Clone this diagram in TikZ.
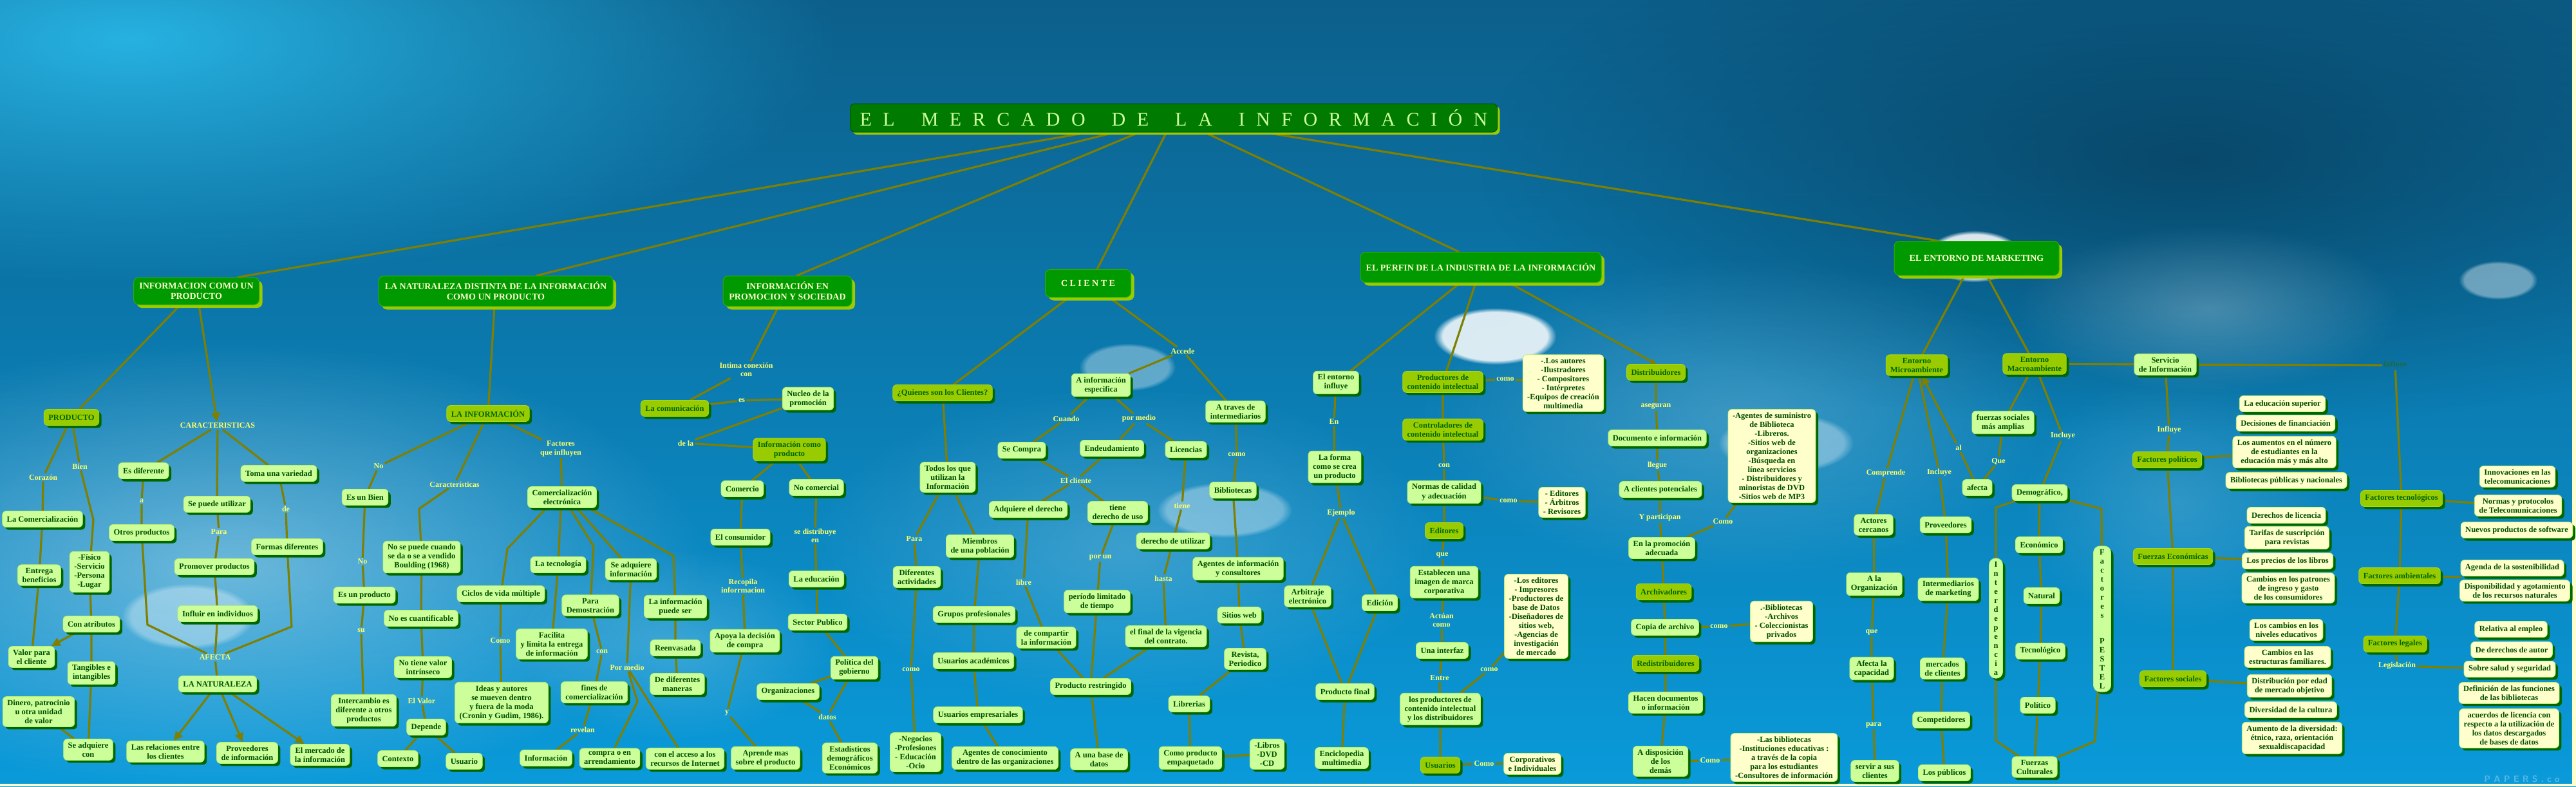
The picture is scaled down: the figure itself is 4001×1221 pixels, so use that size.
\documentclass[tikz,border=0pt]{standalone}
\usepackage{fontspec}
\setmainfont{Liberation Serif}
\usetikzlibrary{arrows.meta,shadows,fadings,calc}
\tikzfading[name=softfade, inner color=transparent!0, outer color=transparent!100]
\pgfdeclarelayer{bgl}
\pgfdeclarelayer{lnl}
\pgfsetlayers{bgl,lnl,main}
\definecolor{bgtop}{HTML}{0C5F8A}
\definecolor{bgmid}{HTML}{2A80A8}
\definecolor{bgbot}{HTML}{0A9ADA}
\definecolor{brightc}{HTML}{2BC0F0}
\definecolor{darkc}{HTML}{06324C}
\definecolor{leafc}{HTML}{CCFF99}
\definecolor{leafbd}{HTML}{B8F070}
\definecolor{midc}{HTML}{99CC00}
\definecolor{midbd}{HTML}{A8D820}
\definecolor{topc}{HTML}{009900}
\definecolor{topbd}{HTML}{33AA00}
\definecolor{toptxt}{HTML}{FFFFCC}
\definecolor{titlec}{HTML}{007A00}
\definecolor{titlebd}{HTML}{005500}
\definecolor{titletxt}{HTML}{CCFF99}
\definecolor{ylwc}{HTML}{FFFFCC}
\definecolor{dkg}{HTML}{006600}
\definecolor{txtg}{HTML}{004D00}
\definecolor{lblc}{HTML}{FFFF66}
\definecolor{olv}{HTML}{7F7F00}
\definecolor{dklbl}{HTML}{1E6B3A}
\definecolor{edgec}{HTML}{FFFFCC}
\newcommand{\tgap}{\hspace{17.5pt}}
\newcommand{\tgapw}{\hspace{41pt}}
\begin{document}
\begin{tikzpicture}[x=1pt,y=-1pt,
  base/.style={rounded corners=6pt, align=center, font=\fontsize{12.5}{14}\selectfont\bfseries, inner xsep=7pt, inner ysep=5pt, minimum height=25pt},
  leaf/.style={base, fill=leafc, draw=leafbd, line width=0.8pt, text=txtg, drop shadow={shadow xshift=4pt, shadow yshift=-4pt, fill=dkg, opacity=1}},
  midbox/.style={base, fill=midc, draw=midbd, line width=0.8pt, text=dkg, drop shadow={shadow xshift=4pt, shadow yshift=-4pt, fill=dkg, opacity=1}},
  ybox/.style={base, fill=ylwc, draw=leafbd, line width=0.8pt, text=txtg, drop shadow={shadow xshift=4pt, shadow yshift=-4pt, fill=dkg, opacity=1}},
  topbox/.style={base, rounded corners=8pt, font=\fontsize{14}{16}\selectfont\bfseries, fill=topc, draw=topbd, line width=1pt, text=toptxt, drop shadow={shadow xshift=5pt, shadow yshift=-5pt, fill=midc, opacity=1}},
  lbl/.style={align=center, font=\fontsize{12}{13.5}\selectfont\bfseries, text=lblc, inner sep=2pt},
  conn/.style={draw=olv, line width=3.2pt},
  arr/.style={conn, -{Triangle[length=14pt,width=13pt]}},
  arrS/.style={conn, -{Triangle[length=8pt,width=9pt]}},
  moon/.style={fill=white, path fading=circle with fuzzy edge 15 percent},
  haze/.style={path fading=softfade}
]
\useasboundingbox (0,0) rectangle (4001,1221);
% ---------------- background ----------------
\begin{pgfonlayer}{bgl}
\shade[top color=bgtop, middle color=bgmid, bottom color=bgbot] (0,0) rectangle (4001,1221);
\fill[brightc, haze, opacity=0.85] (200,60) ellipse [x radius=1100, y radius=380];
\fill[darkc, haze, opacity=0.6] (3400,250) ellipse [x radius=1100, y radius=420];
\fill[white, haze, opacity=0.4] (350,880) ellipse [x radius=750, y radius=350];
\fill[white, haze, opacity=0.2] (1750,850) ellipse [x radius=500, y radius=250];
\fill[white, haze, opacity=0.2] (1050,1000) ellipse [x radius=250, y radius=150];
\fill[white, haze, opacity=0.2] (2700,650) ellipse [x radius=500, y radius=250];
\fill[white, haze, opacity=0.25] (3430,480) ellipse [x radius=300, y radius=130];
\fill[white, haze, opacity=0.15] (3380,780) ellipse [x radius=250, y radius=200];
\fill[moon, opacity=0.35] (1751,570) ellipse [x radius=75, y radius=37];
\fill[moon, opacity=0.35] (1902,792) ellipse [x radius=105, y radius=43];
\fill[moon, opacity=0.85] (2322,522) ellipse [x radius=95, y radius=44];
\fill[moon, opacity=0.35] (292,957) ellipse [x radius=103, y radius=51];
\fill[moon, opacity=0.35] (2774,688) ellipse [x radius=105, y radius=46];
\fill[moon, opacity=0.4] (3880,435) ellipse [x radius=61, y radius=30];
\fill[moon, opacity=0.85] (3066,398) ellipse [x radius=75, y radius=40];
\fill[edgec] (0,1217) rectangle (4001,1221);
\fill[edgec] (3995,0) rectangle (4001,1221);
\node[text=white, opacity=0.3, font=\sffamily\bfseries\fontsize{14}{14}\selectfont] (wm) at (3917,1210) {P A P E R S . c o};
\end{pgfonlayer}

% ---------------- top level ----------------
\node[base, rounded corners=7pt, fill=titlec, draw=titlebd, line width=1pt, minimum width=1005pt, minimum height=44pt, font=\fontsize{30}{32}\selectfont, text=titletxt, drop shadow={shadow xshift=4pt, shadow yshift=-4pt, fill=midc, opacity=1}] (title) at (1823,183)
 {E\tgap L\tgapw M\tgap E\tgap R\tgap C\tgap A\tgap D\tgap O\tgapw D\tgap E\tgapw L\tgap A\tgapw I\tgap N\tgap F\tgap O\tgap R\tgap M\tgap A\tgap C\tgap I\tgap Ó\tgap N};
\node[topbox, minimum width=195pt, minimum height=42pt] (infoprod) at (305,452) {INFORMACION COMO UN\\PRODUCTO};
\node[topbox, minimum width=364pt, minimum height=47pt] (natur) at (770,452) {LA NATURALEZA DISTINTA DE LA INFORMACIÓN\\COMO UN PRODUCTO};
\node[topbox, minimum width=200pt, minimum height=47pt] (promo) at (1223,452) {INFORMACIÓN EN\\PROMOCION Y SOCIEDAD};
\node[topbox, minimum width=133pt, minimum height=43pt] (cliente) at (1690,440) {C L I E N T E};
\node[topbox, minimum width=374pt, minimum height=47pt] (perfin) at (2300,415) {EL PERFIN DE LA INDUSTRIA DE LA INFORMACIÓN};
\node[topbox, minimum width=256pt, minimum height=53pt] (entorno) at (3070,401) {EL ENTORNO DE MARKETING};

% ---------------- region 1 ----------------
\node[midbox] (producto) at (111,648) {PRODUCTO};
\node[lbl] (caract) at (338,661) {CARACTERISTICAS};
\node[lbl] (corazon) at (67,741) {Corazón};
\node[lbl] (bien) at (124,724) {Bien};
\node[leaf] (esdif) at (223,731) {Es diferente};
\node[leaf] (sepuede) at (337,783) {Se puede utilizar};
\node[leaf] (toma) at (433,735) {Toma una variedad};
\node[leaf] (lacomerc) at (66,806) {La Comercialización};
\node[lbl] (lbla) at (220,778) {a};
\node[lbl] (lblpara) at (340,826) {Para};
\node[lbl] (lblde) at (444,790) {de};
\node[leaf] (otros) at (220,827) {Otros productos};
\node[leaf] (formas) at (446,849) {Formas diferentes};
\node[leaf] (entrega) at (61,893) {Entrega\\beneficios};
\node[leaf] (fisico) at (139,888) {-Físico\\-Servicio\\-Persona\\-Lugar};
\node[leaf] (promover) at (333,880) {Promover productos};
\node[leaf] (influir) at (338,953) {Influir en individuos};
\node[leaf] (conatrib) at (142,969) {Con atributos};
\node[leaf] (valor) at (49,1020) {Valor para\\el cliente};
\node[leaf] (tangibles) at (142,1045) {Tangibles e\\intangibles};
\node[lbl] (afectalbl) at (334,1021) {AFECTA};
\node[leaf] (lanat) at (338,1062) {LA NATURALEZA};
\node[leaf] (dinero) at (60,1105) {Dinero, patrocinio\\u otra unidad\\de valor};
\node[leaf] (seadq) at (137,1164) {Se adquiere\\con};
\node[leaf] (relac) at (257,1167) {Las relaciones entre\\los clientes};
\node[leaf] (proveed) at (384,1169) {Proveedores\\de información};
\node[leaf] (mercado) at (497,1172) {El mercado de\\la información};

% ---------------- region 2 ----------------
\node[midbox] (lainfo) at (758,642) {LA INFORMACIÓN};
\node[lbl] (no1) at (588,724) {No};
\node[lbl] (carac2) at (706,752) {Características};
\node[lbl] (factinf) at (871,697) {Factores\\que influyen};
\node[leaf] (esbien) at (567,772) {Es un Bien};
\node[lbl] (no2) at (563,872) {No};
\node[leaf] (esprod) at (566,924) {Es un producto};
\node[lbl] (su) at (561,979) {su};
\node[leaf] (intercambio) at (565,1103) {Intercambio es\\diferente a otros\\productos};
\node[leaf] (nosepuede) at (655,865) {No se puede cuando\\se da o se a vendido\\Boulding (1968)};
\node[leaf] (nocuant) at (654,960) {No es cuantificable};
\node[leaf] (notiene) at (657,1036) {No tiene valor\\intrínseco};
\node[lbl] (elvalor) at (655,1088) {El Valor};
\node[leaf] (depende) at (662,1129) {Depende};
\node[leaf] (contexto) at (618,1178) {Contexto};
\node[leaf] (usuario) at (721,1182) {Usuario};
\node[leaf] (comelec) at (873,772) {Comercialización\\electrónica};
\node[leaf] (ciclos) at (778,922) {Ciclos de vida múltiple};
\node[leaf] (tecnol) at (867,877) {La tecnología};
\node[leaf] (seadqinfo) at (980,884) {Se adquiere\\información};
\node[leaf] (parademo) at (917,940) {Para\\Demostración};
\node[leaf] (infopuede) at (1049,942) {La información\\puede ser};
\node[leaf] (facilita) at (857,1000) {Facilita\\y limita la entrega\\de información};
\node[lbl] (como1) at (777,995) {Como};
\node[lbl] (con1) at (935,1012) {con};
\node[lbl] (pormedio1) at (974,1036) {Por medio};
\node[leaf] (reenv) at (1049,1006) {Reenvasada};
\node[leaf] (dedif) at (1052,1062) {De diferentes\\maneras};
\node[leaf] (ideas) at (779,1091) {Ideas y autores\\se mueven dentro\\y fuera de la moda\\(Cronin y Gudim, 1986).};
\node[leaf] (fines) at (923,1075) {fines de\\comercialización};
\node[lbl] (revelan) at (905,1133) {revelan};
\node[leaf] (informacion) at (848,1177) {Información};
\node[leaf] (compra) at (947,1177) {compra o en\\arrendamiento};
\node[leaf] (acceso) at (1064,1178) {con el acceso a los\\recursos de Internet};

% promo
\node[lbl] (intima) at (1159,574) {Intima conexión\\con};
\node[midbox] (lacomu) at (1048,634) {La comunicación};
\node[lbl] (es) at (1152,622) {es};
\node[leaf] (nucleo) at (1255,619) {Nucleo de la\\promoción};
\node[lbl] (dela) at (1065,688) {de la};
\node[midbox] (infocomo) at (1226,698) {Información como\\producto};
\node[leaf] (comercio) at (1153,759) {Comercio};
\node[leaf] (nocomercial) at (1268,757) {No comercial};
\node[leaf] (consumidor) at (1150,834) {El consumidor};
\node[lbl] (recopila) at (1154,910) {Recopila\\inforrmacion};
\node[leaf] (apoya) at (1157,995) {Apoya la decisión\\de compra};
\node[lbl] (y1) at (1129,1107) {y};
\node[leaf] (aprende) at (1189,1177) {Aprende mas\\sobre el producto};
\node[lbl] (sedistrib) at (1266,832) {se distribuye\\en};
\node[leaf] (educacion) at (1268,899) {La educación};
\node[leaf] (sector) at (1270,966) {Sector Publico};
\node[leaf] (politica) at (1327,1037) {Política del\\gobierno};
\node[leaf] (organiz) at (1224,1074) {Organizaciones};
\node[lbl] (datos) at (1285,1113) {datos};
\node[leaf] (estad) at (1320,1177) {Estadísticos\\demográficos\\Económicos};

% ---------------- cliente ----------------
\node[midbox] (quienes) at (1464,610) {¿Quienes son los Clientes?};
\node[lbl] (accede) at (1837,545) {Accede};
\node[leaf] (infoesp) at (1710,598) {A información\\especifica};
\node[leaf] (traves) at (1919,639) {A traves de\\intermediarios};
\node[lbl] (cuando) at (1656,650) {Cuando};
\node[lbl] (pormedio2) at (1769,650) {por medio};
\node[leaf] (secompra) at (1587,699) {Se Compra};
\node[leaf] (endeud) at (1727,696) {Endeudamiento};
\node[leaf] (licencias) at (1842,698) {Licencias};
\node[lbl] (elcliente) at (1671,746) {El cliente};
\node[lbl] (como2) at (1921,706) {como};
\node[leaf] (adquiere) at (1597,791) {Adquiere el derecho};
\node[leaf] (tienederecho) at (1736,795) {tiene\\derecho de uso};
\node[leaf] (bibliotecas) at (1915,761) {Bibliotecas};
\node[lbl] (tiene) at (1836,785) {tiene};
\node[leaf] (todos) at (1472,741) {Todos los que\\utilizan la\\Información};
\node[lbl] (para2) at (1420,837) {Para};
\node[leaf] (miembros) at (1522,848) {Miembros\\de una población};
\node[leaf] (difact) at (1424,896) {Diferentes\\actividades};
\node[lbl] (como3) at (1415,1040) {como};
\node[leaf] (negocios) at (1422,1168) {-Negocios\\-Profesiones\\- Educación\\-Ocio};
\node[leaf] (grupos) at (1513,954) {Grupos profesionales};
\node[leaf] (usacad) at (1512,1026) {Usuarios académicos};
\node[leaf] (usemp) at (1519,1110) {Usuarios empresariales};
\node[leaf] (agentescon) at (1561,1177) {Agentes de conocimiento\\dentro de las organizaciones};
\node[lbl] (libre) at (1590,904) {libre};
\node[leaf] (compartir) at (1625,990) {de compartir\\la información};
\node[leaf] (prodrest) at (1694,1066) {Producto restringido};
\node[lbl] (porun) at (1709,866) {por un};
\node[leaf] (periodo) at (1704,934) {período limitado\\de tiempo};
\node[leaf] (derutil) at (1822,840) {derecho de utilizar};
\node[lbl] (hasta) at (1807,898) {hasta};
\node[leaf] (final) at (1811,988) {el final de la vigencia\\del contrato.};
\node[leaf] (basedatos) at (1707,1179) {A una base de\\datos};
\node[leaf] (agentesinfo) at (1923,883) {Agentes de información\\y consultores};
\node[leaf] (sitios) at (1925,955) {Sitios web};
\node[leaf] (revista) at (1934,1023) {Revista,\\Periodico};
\node[leaf] (librerias) at (1847,1093) {Librerias};
\node[leaf] (empaquetado) at (1849,1177) {Como producto\\empaquetado};
\node[leaf] (libros) at (1968,1171) {-Libros\\-DVD\\-CD};

% ---------------- perfin ----------------
\node[leaf] (entornoinf) at (2075,594) {El entorno\\influye};
\node[midbox] (productores) at (2241,593) {Productores de\\contenido intelectual};
\node[lbl] (como4) at (2338,589) {como};
\node[ybox] (losautores) at (2428,595) {-.Los autores\\-Ilustradores\\- Compositores\\- Intérpretes\\-Equipos de creación\\multimedia};
\node[midbox] (distrib) at (2572,578) {Distribuidores};
\node[lbl] (en) at (2072,655) {En};
\node[leaf] (laforma) at (2073,725) {La forma\\como se crea\\un producto};
\node[midbox] (controladores) at (2241,667) {Controladores de\\contenido intelectual};
\node[lbl] (con2) at (2243,723) {con};
\node[leaf] (normas) at (2243,764) {Normas de calidad\\y adecuación};
\node[lbl] (como5) at (2343,778) {como};
\node[ybox] (editoreslist) at (2426,780) {- Editores\\- Árbitros\\- Revisores};
\node[lbl] (ejemplo) at (2083,797) {Ejemplo};
\node[midbox] (editores) at (2243,824) {Editores};
\node[lbl] (que1) at (2240,862) {que};
\node[leaf] (establecen) at (2243,904) {Establecen una\\imagen de marca\\corporativa};
\node[lbl] (actuan) at (2239,963) {Actúan\\como};
\node[leaf] (interfaz) at (2240,1010) {Una interfaz};
\node[lbl] (entre) at (2236,1053) {Entre};
\node[leaf] (losprod) at (2237,1101) {los productores de\\contenido intelectual\\y los distribuidores};
\node[lbl] (como6) at (2313,1040) {como};
\node[ybox] (loseditores) at (2386,957) {-Los editores\\- Impresores\\-Productores de\\base de Datos\\-Diseñadores de\\sitios web,\\-Agencias de\\investigación\\de mercado};
\node[midbox] (usuarios) at (2237,1188) {Usuarios};
\node[lbl] (como7) at (2305,1186) {Como};
\node[ybox] (corporativos) at (2380,1186) {Corporativos\\e Individuales};
\node[leaf] (arbitraje) at (2031,926) {Arbitraje\\electrónico};
\node[leaf] (edicion) at (2143,936) {Edición};
\node[leaf] (prodfinal) at (2089,1074) {Producto final};
\node[leaf] (enciclo) at (2084,1177) {Enciclopedia\\multimedia};
\node[lbl] (aseguran) at (2572,631) {aseguran};
\node[leaf] (documento) at (2574,680) {Documento e información};
\node[lbl] (llegue) at (2574,723) {llegue};
\node[leaf] (aclientes) at (2579,760) {A clientes potenciales};
\node[lbl] (ypart) at (2578,804) {Y participan};
\node[leaf] (enlaprom) at (2581,851) {En la promoción\\adecuada};
\node[midbox] (archiv) at (2584,919) {Archivadores};
\node[leaf] (copia) at (2586,974) {Copia de archivo};
\node[midbox] (redistrib) at (2587,1030) {Redistribuidores};
\node[leaf] (hacen) at (2587,1091) {Hacen documentos\\o información};
\node[leaf] (adisp) at (2579,1182) {A disposición\\de los\\demás};
\node[lbl] (como8) at (2676,810) {Como};
\node[lbl] (como9) at (2670,973) {como};
\node[lbl] (como10) at (2656,1181) {Como};
\node[ybox] (agentessum) at (2752,708) {-Agentes de suministro\\de Biblioteca\\-Libreros.\\-Sitios web de\\organizaciones\\-Búsqueda en\\línea servicios\\- Distribuidores y\\minoristas de DVD\\-Sitios web de MP3};
\node[ybox] (bibarch) at (2767,965) {.-Bibliotecas\\-Archivos\\- Coleccionistas\\privados};
\node[ybox] (lasbib) at (2771,1176) {-Las bibliotecas\\-Instituciones educativas :\\a través de la copia\\para los estudiantes\\-Consultores de información};

% ---------------- entorno ----------------
\node[midbox] (micro) at (2977,567) {Entorno\\Microambiente};
\node[midbox] (macro) at (3160,565) {Entorno\\Macroambiente};
\node[leaf] (servicio) at (3363,566) {Servicio\\de Información};
\node[leaf] (fuerzassoc) at (3111,656) {fuerzas sociales\\más amplias};
\node[lbl] (incluye2) at (3204,677) {Incluye};
\node[lbl] (al) at (3042,695) {al};
\node[lbl] (que2) at (3104,716) {Que};
\node[leaf] (afecta) at (3071,757) {afecta};
\node[lbl] (comprende) at (2929,735) {Comprende};
\node[lbl] (incluye1) at (3012,734) {Incluye};
\node[leaf] (demog) at (3168,765) {Demográfico,};
\node[leaf] (actores) at (2910,815) {Actores\\cercanos};
\node[leaf] (proveedores2) at (3022,815) {Proveedores};
\node[leaf] (alaorg) at (2911,907) {A la\\Organización};
\node[leaf] (intermed) at (3026,915) {Intermediarios\\de marketing};
\node[lbl] (que3) at (2907,982) {que};
\node[leaf] (afectacap) at (2907,1038) {Afecta la\\capacidad};
\node[leaf] (mercados) at (3017,1038) {mercados\\de clientes};
\node[lbl] (para3) at (2910,1126) {para};
\node[leaf] (competidores) at (3015,1118) {Competidores};
\node[leaf] (servir) at (2912,1197) {servir a sus\\clientes};
\node[leaf] (publicos) at (3020,1200) {Los públicos};
\node[leaf, rounded corners=10pt, inner xsep=3pt, minimum width=21pt] (interdep) at (3100,960) {I\\n\\t\\e\\r\\d\\e\\p\\e\\n\\c\\i\\a};
\node[leaf, rounded corners=10pt, inner xsep=3pt, minimum width=27pt] (pestel) at (3265,961) {F\\a\\c\\t\\o\\r\\e\\s\\[26pt]P\\E\\S\\T\\E\\L};
\node[leaf] (econ) at (3167,846) {Económico};
\node[leaf] (natural) at (3171,925) {Natural};
\node[leaf] (tecnologico) at (3169,1011) {Tecnológico};
\node[leaf] (politico) at (3165,1095) {Político};
\node[leaf] (fcult) at (3160,1191) {Fuerzas\\Culturales};

% right column
\node[lbl, text=dklbl] (influyedk) at (3720,567) {Influye};
\node[lbl] (influye) at (3369,668) {Influye};
\node[midbox] (fpoliticos) at (3366,714) {Factores políticos};
\node[midbox] (feconom) at (3375,864) {Fuerzas Económicas};
\node[midbox] (fsociales) at (3375,1054) {Factores sociales};
\node[midbox] (ftecno) at (3730,774) {Factores tecnológicos};
\node[midbox] (fambient) at (3727,894) {Factores ambientales};
\node[midbox] (flegales) at (3720,1000) {Factores legales};
\node[lbl] (legis) at (3723,1034) {Legislación};
\node[ybox] (edsup) at (3545,627) {La educación superior};
\node[ybox] (decis) at (3550,657) {Decisiones de financiación};
\node[ybox] (aumentos) at (3548,702) {Los aumentos en el número\\de estudiantes en la\\educación más y más alto};
\node[ybox] (bibpub) at (3551,746) {Bibliotecas públicas y nacionales};
\node[ybox] (derlic) at (3551,800) {Derechos de licencia};
\node[ybox] (tarifas) at (3552,835) {Tarifas de suscripción\\para revistas};
\node[ybox] (precios) at (3553,871) {Los precios de los libros};
\node[ybox] (cambpat) at (3554,913) {Cambios en los patrones\\de ingreso y gasto\\de los consumidores};
\node[ybox] (cambniv) at (3551,978) {Los cambios en los\\niveles educativos};
\node[ybox] (cambest) at (3553,1020) {Cambios en las\\estructuras familiares.};
\node[ybox] (distedad) at (3556,1065) {Distribución por edad\\de mercado objetivo};
\node[ybox] (diversidad) at (3558,1102) {Diversidad de la cultura};
\node[ybox] (aumdiv) at (3560,1146) {Aumento de la diversidad:\\étnico, raza, orientación\\sexualdiscapacidad};
\node[ybox] (innov) at (3910,740) {Innovaciones en las\\telecomunicaciones};
\node[ybox] (normasprot) at (3911,785) {Normas y protocolos\\de Telecomunicaciones};
\node[ybox] (nuevos) at (3909,823) {Nuevos productos de software};
\node[ybox] (agenda) at (3902,882) {Agenda de la sostenibilidad};
\node[ybox] (dispon) at (3906,917) {Disponibilidad y agotamiento\\de los recursos naturales};
\node[ybox] (relativa) at (3900,977) {Relativa al empleo};
\node[ybox] (dederechos) at (3901,1009) {De derechos de autor};
\node[ybox] (sobresalud) at (3898,1039) {Sobre salud y seguridad};
\node[ybox] (definicion) at (3897,1076) {Definición de las funciones\\de las bibliotecas};
\node[ybox] (acuerdos) at (3897,1131) {acuerdos de licencia con\\respecto a la utilización de\\los datos descargados\\de bases de datos};

% bend coordinates
\coordinate (cb1) at (145,807);
\coordinate (cb2) at (229,970);
\coordinate (cb3) at (453,973);
\coordinate (cb4) at (651,790);
\coordinate (cb5) at (788,852);
\coordinate (cb6) at (922,848);
\coordinate (cb7) at (1046,863);
\coordinate (cb8) at (990,1089);
\coordinate (cb9) at (3100,788);
\coordinate (cb10) at (3100,1150);
\coordinate (cb11) at (3264,790);
\coordinate (cb12) at (3254,1151);
\coordinate (cb13) at (3823,896);

% ---------------- connectors ----------------
\begin{pgfonlayer}{lnl}
\draw[conn] (title) -- ([xshift=64pt]infoprod.north);
\draw[conn] (title) -- ([xshift=63pt]natur.north);
\draw[conn] (title) -- ([xshift=14pt]promo.north);
\draw[conn] (title) -- ([xshift=14pt]cliente.north);
\draw[conn] (title) -- ([xshift=-34pt]perfin.north);
\draw[conn] (title) -- ([xshift=-59pt]entorno.north);
% region 1
\draw[conn] ([xshift=-25pt]infoprod.south) -- (producto);
\draw[arr] ([xshift=4pt]infoprod.south) -- (caract);
\draw[conn] (producto) -- (corazon) -- (lacomerc);
\draw[conn] (producto) -- (bien) -- (cb1) -- (fisico);
\draw[conn] (lacomerc) -- (entrega) -- (valor);
\draw[conn] (fisico) -- (conatrib) -- (tangibles) -- (seadq);
\draw[arr] (conatrib) -- (valor);
\draw[conn] (dinero) -- (seadq);
\draw[conn] (caract) -- (esdif);
\draw[conn] (caract) -- (sepuede);
\draw[conn] (caract) -- (toma);
\draw[conn] (esdif) -- (lbla) -- (otros);
\draw[conn] (sepuede) -- (lblpara) -- (promover) -- (influir) -- (afectalbl) -- (lanat);
\draw[conn] (toma) -- (lblde) -- (formas);
\draw[conn] (otros) -- (cb2) -- (afectalbl);
\draw[conn] (formas) -- (cb3) -- (afectalbl);
\draw[arr] (lanat) -- (relac);
\draw[arr] (lanat) -- (proveed);
\draw[arr] (lanat) -- (mercado);
% region 2
\draw[conn] ([xshift=-2pt]natur.south) -- (lainfo);
\draw[conn] (lainfo) -- (no1) -- (esbien) -- (no2) -- (esprod) -- (su) -- (intercambio);
\draw[conn] (lainfo) -- (carac2) -- (cb4) -- (nosepuede);
\draw[conn] (nosepuede) -- (nocuant) -- (notiene) -- (elvalor) -- (depende);
\draw[conn] (depende) -- (contexto);
\draw[conn] (depende) -- (usuario);
\draw[conn] (lainfo) -- (factinf) -- (comelec);
\draw[conn] ([xshift=-24pt]comelec.south) -- (cb5) -- (ciclos);
\draw[conn] ([xshift=-2pt]comelec.south) -- (tecnol);
\draw[conn] ([xshift=12pt]comelec.south) -- (cb6) -- (parademo);
\draw[conn] ([xshift=23pt]comelec.south) -- (seadqinfo);
\draw[conn] ([xshift=41pt]comelec.south) -- (cb7) -- (infopuede);
\draw[conn] (ciclos) -- (como1) -- (ideas);
\draw[conn] (tecnol) -- (facilita);
\draw[conn] (parademo) -- (con1) -- (fines) -- (revelan) -- (informacion);
\draw[conn] (seadqinfo) -- (pormedio1) -- (cb8) -- (compra);
\draw[conn] (pormedio1) -- (acceso);
\draw[conn] (infopuede) -- (reenv) -- (dedif);
% promo
\draw[conn] ([xshift=-14pt]promo.south) -- (intima) -- (lacomu) -- (es) -- (nucleo) -- (dela) -- (infocomo);
\draw[conn] (infocomo) -- (comercio) -- (consumidor) -- (recopila) -- (apoya) -- (y1) -- (aprende);
\draw[conn] (infocomo) -- (nocomercial) -- (sedistrib) -- (educacion) -- (sector) -- (politica) -- (organiz);
\draw[conn] (politica) -- (datos);
\draw[conn] (organiz) -- (datos) -- (estad);
% cliente
\draw[conn] ([xshift=-30pt]cliente.south) -- (quienes) -- (todos);
\draw[conn] ([xshift=33pt]cliente.south) -- (accede) -- (infoesp);
\draw[conn] (accede) -- (traves) -- (como2) -- (bibliotecas);
\draw[conn] (infoesp) -- (cuando) -- (secompra) -- (elcliente);
\draw[conn] (infoesp) -- (pormedio2) -- (endeud) -- (elcliente);
\draw[conn] (pormedio2) -- (licencias) -- (tiene) -- (derutil) -- (hasta) -- (final) -- (prodrest);
\draw[conn] (elcliente) -- (adquiere) -- (libre) -- (compartir) -- (prodrest);
\draw[conn] (elcliente) -- (tienederecho) -- (porun) -- (periodo) -- (prodrest) -- (basedatos);
\draw[conn] (todos) -- (para2) -- (difact) -- (como3) -- (negocios);
\draw[conn] (todos) -- (miembros) -- (grupos) -- (usacad) -- (usemp) -- (agentescon);
\draw[conn] (bibliotecas) -- (agentesinfo) -- (sitios) -- (revista) -- (librerias) -- (empaquetado) -- (libros);
% perfin
\draw[conn] ([xshift=-32pt]perfin.south) -- (entornoinf) -- (en) -- (laforma) -- (ejemplo);
\draw[conn] (ejemplo) -- (arbitraje) -- (prodfinal);
\draw[conn] (ejemplo) -- (edicion) -- (prodfinal) -- (enciclo);
\draw[conn] ([xshift=-8pt]perfin.south) -- (productores) -- (como4) -- (losautores);
\draw[arrS] ([xshift=44pt]perfin.south) -- (distrib.north);
\draw[conn] (productores) -- (controladores) -- (con2) -- (normas) -- (como5) -- (editoreslist);
\draw[conn] (normas) -- (editores) -- (que1) -- (establecen) -- (actuan) -- (interfaz) -- (entre) -- (losprod) -- (usuarios) -- (como7) -- (corporativos);
\draw[conn] (losprod) -- (como6) -- (loseditores);
\draw[conn] (distrib) -- (aseguran) -- (documento) -- (llegue) -- (aclientes) -- (ypart) -- (enlaprom) -- (archiv) -- (copia) -- (redistrib) -- (hacen) -- (adisp);
\draw[conn] (enlaprom) -- (como8) -- (agentessum);
\draw[conn] (copia) -- (como9) -- (bibarch);
\draw[conn] (adisp) -- (como10) -- (lasbib);
% entorno
\draw[conn] ([xshift=-19pt]entorno.south) -- (micro);
\draw[conn] ([xshift=16pt]entorno.south) -- (macro);
\draw[conn] (macro) -- (servicio);
\draw[conn] (macro) -- (fuerzassoc) -- (que2) -- (afecta) -- (al);
\draw[arr] (al) -- (micro);
\draw[conn] (macro) -- (incluye2) -- (demog);
\draw[conn] (micro) -- (comprende) -- (actores) -- (alaorg) -- (que3) -- (afectacap) -- (para3) -- (servir);
\draw[conn] (micro) -- (incluye1) -- (proveedores2) -- (intermed) -- (mercados) -- (competidores) -- (publicos);
\draw[conn] (demog) -- (cb9) -- (interdep) -- (cb10) -- (fcult);
\draw[conn] (demog) -- (econ) -- (natural) -- (tecnologico) -- (politico) -- (fcult);
\draw[conn] (demog) -- (cb11) -- (pestel) -- (cb12) -- (fcult);
\draw[conn] (servicio) -- (influyedk) -- (ftecno);
\draw[conn] (servicio) -- (influye) -- (fpoliticos) -- (feconom) -- (fsociales);
\draw[conn] (fpoliticos) -- (aumentos);
\draw[conn] (feconom) -- (precios);
\draw[conn] (fsociales) -- (distedad);
\draw[conn] (ftecno) -- (normasprot);
\draw[conn] (ftecno) -- (fambient) -- (flegales) -- (legis) -- (sobresalud);
\draw[conn] (fambient) -- (cb13);
\end{pgfonlayer}
\end{tikzpicture}
\end{document}
